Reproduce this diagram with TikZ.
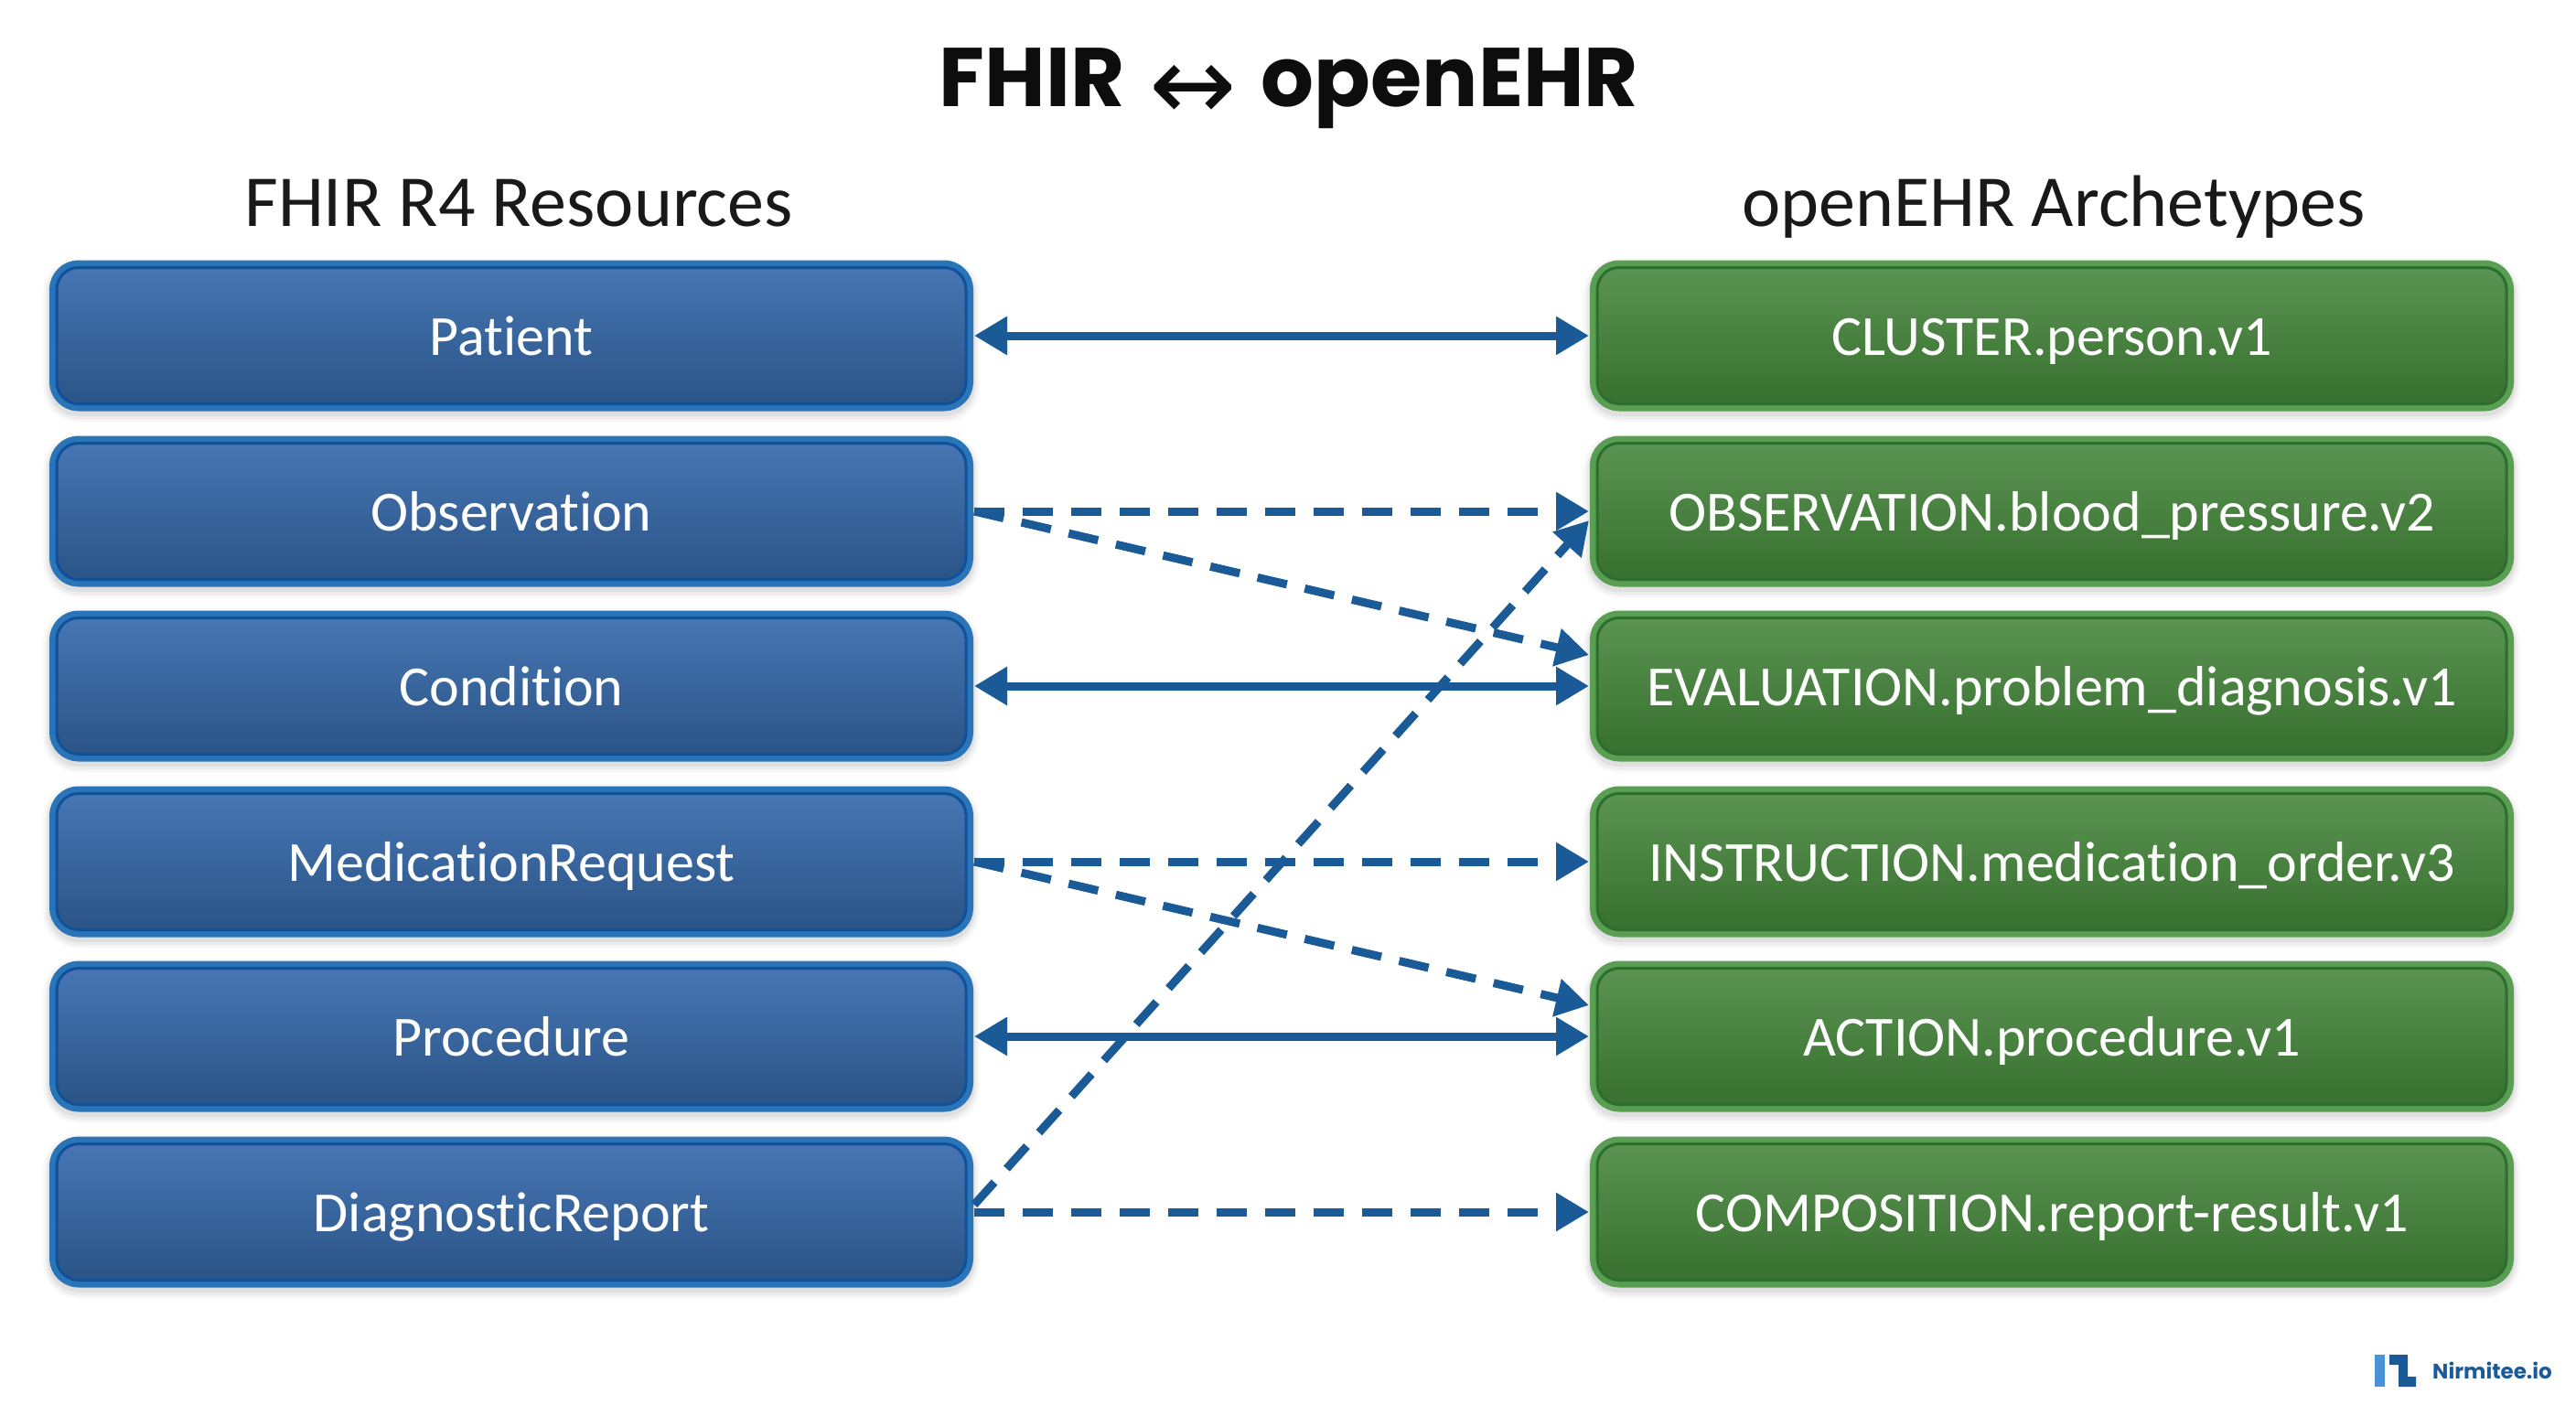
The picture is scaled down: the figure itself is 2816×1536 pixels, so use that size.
\documentclass[tikz,border=0pt]{standalone}
\usepackage{fontspec}
\setmainfont{Carlito}[Ligatures=NoCommon]
\newfontfamily\titlefont{Poppins}
\newfontfamily\arrowfont{DejaVu Sans}
\usetikzlibrary{arrows.meta,calc}
\definecolor{arrowblue}{HTML}{1A5A96}
\tikzset{
  softshadow/.style={
    preaction={draw=black,opacity=.03,line width=30pt,transform canvas={yshift=-5pt}},
    preaction={draw=black,opacity=.04,line width=24pt,transform canvas={yshift=-5pt}},
    preaction={draw=black,opacity=.06,line width=19pt,transform canvas={yshift=-4pt}}},
  cardbox/.style={rectangle,rounded corners=24pt,minimum width=994pt,minimum height=149pt,
    text height=50pt,text depth=8pt,
    inner sep=0pt,outer sep=9pt,line width=3pt,text=white,
    font=\fontsize{62}{74}\selectfont,softshadow},
  bluebox/.style={cardbox,draw=BlueInner,top color=BlueTop,bottom color=BlueBot,
    preaction={draw=BlueBand,line width=16pt}},
  greenbox/.style={cardbox,draw=GreenInner,top color=GreenTop,bottom color=GreenBot,
    preaction={draw=GreenBand,line width=16pt}},
  header/.style={font=\fontsize{80}{94}\selectfont,text=black!90,inner sep=0pt,anchor=base},
  link/.style={draw=arrowblue,line width=9pt},
  solidlink/.style={link,{Triangle[length=36pt,width=40pt]}-{Triangle[length=36pt,width=40pt]}},
  dashlink/.style={link,dash pattern=on 33pt off 20pt,-{Triangle[length=36pt,width=40pt]}}
}
\definecolor{BlueInner}{HTML}{11519A}
\definecolor{BlueBand}{HTML}{2A74B8}
\definecolor{BlueTop}{HTML}{4676B3}
\definecolor{BlueBot}{HTML}{2B5487}
\definecolor{GreenInner}{HTML}{2C6E2E}
\definecolor{GreenBand}{HTML}{5A9E54}
\definecolor{GreenTop}{HTML}{5A9352}
\definecolor{GreenBot}{HTML}{38702F}
\begin{document}
\begin{tikzpicture}[x=1pt,y=-1pt]
\useasboundingbox (0,0) rectangle (2816,1536);
\node[inner sep=0pt,text=black!95,anchor=base] (title) at (1409,117) {\fontsize{91}{100}\selectfont\titlefont\bfseries FHIR\hspace{27pt}\raisebox{-15pt}{\fontsize{114}{120}\selectfont\arrowfont\mdseries ↔}\hspace{27pt}openEHR};
\node[header] (lefthead) at (567,247) {FHIR R4 Resources};
\node[header] (righthead) at (2245,247) {openEHR Archetypes};

\node[bluebox] (fPatient) at (559,367) {Patient};
\node[bluebox] (fObs) at (559,559) {Observation};
\node[bluebox] (fCond) at (559,750) {Condition};
\node[bluebox] (fMed) at (559,942) {MedicationRequest};
\node[bluebox] (fProc) at (559,1133) {Procedure};
\node[bluebox] (fDiag) at (559,1325) {DiagnosticReport};

\node[greenbox] (oPerson) at (2243,367) {CLUSTER.person.v1};
\node[greenbox] (oBP) at (2243,559) {OBSERVATION.blood\_pressure.v2};
\node[greenbox] (oProb) at (2243,750) {EVALUATION.problem\_diagnosis.v1};
\node[greenbox] (oMed) at (2243,942) {INSTRUCTION.medication\_order.v3};
\node[greenbox] (oProc) at (2243,1133) {ACTION.procedure.v1};
\node[greenbox] (oComp) at (2243,1325) {COMPOSITION.report-result.v1};

\draw[solidlink] (fPatient.east) -- (oPerson.west);
\draw[solidlink] (fCond.east) -- (oProb.west);
\draw[solidlink] (fProc.east) -- (oProc.west);
\draw[dashlink] (fObs.east) -- (oBP.west);
\draw[dashlink] (fObs.east) -- ([yshift=34pt]oProb.west);
\draw[dashlink] (fMed.east) -- (oMed.west);
\draw[dashlink] (fMed.east) -- ([yshift=34pt]oProc.west);
\draw[dashlink] (fDiag.east) -- (oComp.west);
\draw[dashlink] ([yshift=8pt]fDiag.east) -- ([yshift=-10pt]oBP.west);

\fill[fill=cyan!60!blue!75] (2596,1481) rectangle (2607,1516);
\fill[fill=arrowblue] (2612,1481) -- (2632,1481) -- (2632,1505) -- (2641,1505) -- (2641,1516) -- (2622,1516) -- (2622,1492) -- (2612,1492) -- cycle;
\node[anchor=west,inner sep=0pt,text=arrowblue] (brand) at (2659,1498) {\fontsize{23}{28}\selectfont\titlefont\bfseries Nirmitee.io};
\end{tikzpicture}
\end{document}
